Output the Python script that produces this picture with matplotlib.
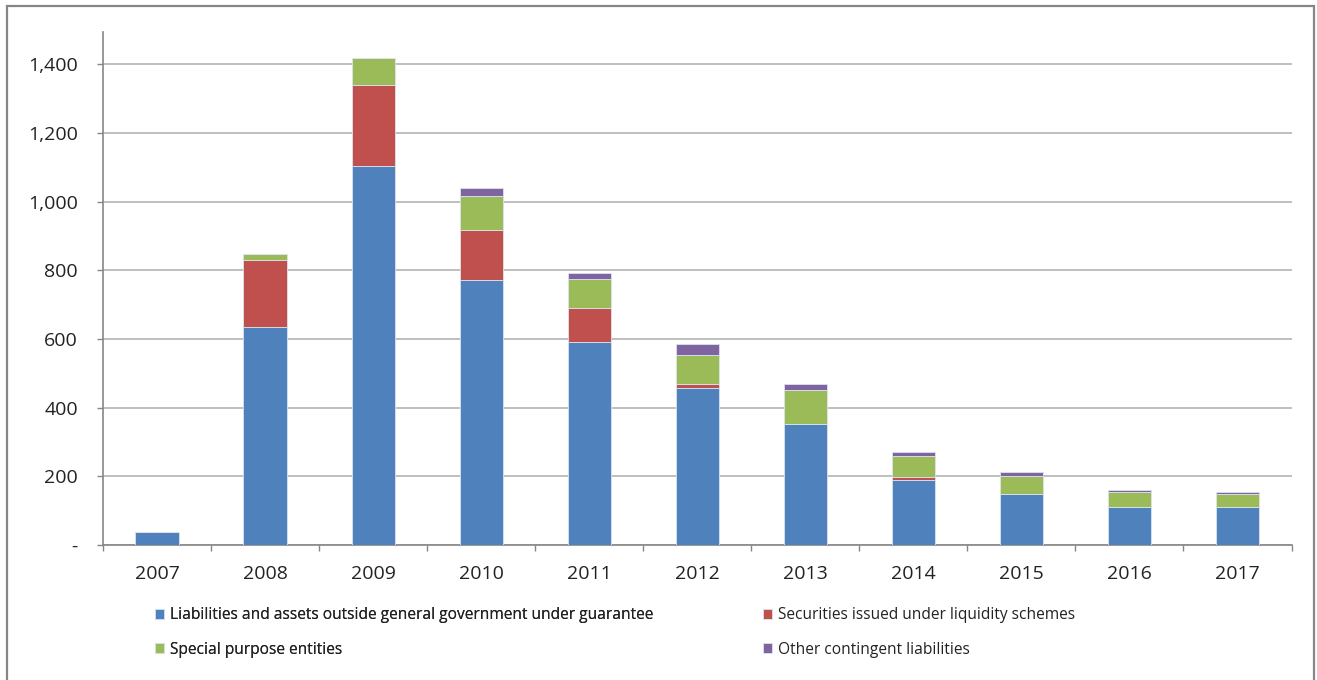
import matplotlib
matplotlib.use("Agg")
import matplotlib.pyplot as plt
from matplotlib.patches import Rectangle
from matplotlib.ticker import FuncFormatter, MultipleLocator
import numpy as np

years = ["2007", "2008", "2009", "2010", "2011", "2012",
         "2013", "2014", "2015", "2016", "2017"]
guarantees = [39, 636, 1105, 772, 592, 457, 353, 190, 149, 110, 110]
liquidity_schemes = [0, 195, 236, 144, 98, 13, 0, 9, 0, 0, 0]
special_purpose = [0, 16, 78, 101, 85, 84, 97, 60, 53, 45, 39]
other_contingent = [0, 0, 0, 23, 16, 31, 20, 13, 12, 5, 6]

series_names = [
    "Liabilities and assets outside general government under guarantee",
    "Securities issued under liquidity schemes",
    "Special purpose entities",
    "Other contingent liabilities",
]
series_values = [guarantees, liquidity_schemes, special_purpose, other_contingent]
series_colors = ["#4F81BD", "#C0504D", "#9BBB59", "#8064A2"]

plt.rcParams["font.family"] = ["Open Sans", "DejaVu Sans"]

W, H = 1317, 680
fig = plt.figure(figsize=(W / 100, H / 100), dpi=100)
ax = fig.add_axes([103 / W, (H - 545) / H, (1291.5 - 103) / W, (545 - 31.7) / H])

x = np.arange(len(years))
bottom = np.zeros(len(years))
handles = []
for name, vals, col in zip(series_names, series_values, series_colors):
    vals = np.array(vals, dtype=float)
    bars = ax.bar(x, vals, width=0.4, bottom=bottom, color=col,
                  edgecolor="#dbe4f0", linewidth=0.6, label=name, zorder=3)
    handles.append(bars)
    bottom += vals

ax.set_xlim(-0.5, len(years) - 0.5)
ax.set_ylim(0, 1495)
ax.yaxis.set_major_locator(MultipleLocator(200))
ax.yaxis.set_major_formatter(FuncFormatter(lambda v, p: "-" if v == 0 else f"{v:,.0f}"))
ax.grid(axis="y", color="#b4b4b4", linewidth=1.2, zorder=0)
ax.set_axisbelow(True)

ax.set_xticks(x)
ax.set_xticklabels(years)
ax.set_xticks(np.arange(-0.5, len(years)), minor=True)
ax.tick_params(axis="x", which="major", length=0, pad=14.5, labelsize=14, labelcolor="#222222")
ax.tick_params(axis="x", which="minor", length=4, width=1, color="#868686", direction="out")
ax.tick_params(axis="y", length=4, width=1, color="#868686", pad=14, labelsize=14, labelcolor="#222222")

for side in ["top", "right"]:
    ax.spines[side].set_visible(False)
for side in ["left", "bottom"]:
    ax.spines[side].set_color("#868686")
    ax.spines[side].set_linewidth(1.2)

# Two-column legend below the plot
leg_kw = dict(frameon=False, fontsize=11.2, handlelength=0.6, handleheight=0.6,
              handletextpad=0.35, labelspacing=1.2, borderpad=0, borderaxespad=0,
              loc="center left", labelcolor="#222222")
leg1 = fig.legend([handles[0], handles[2]], [series_names[0], series_names[2]],
                  bbox_to_anchor=(155 / W, 1 - 632.5 / H), **leg_kw)
fig.add_artist(leg1)
fig.legend([handles[1], handles[3]], [series_names[1], series_names[3]],
           bbox_to_anchor=(763 / W, 1 - 632.5 / H), **leg_kw)

# Chart-area border
fig.add_artist(Rectangle((7 / W, -0.05), (1314 - 7) / W, 1.05 - 6 / H,
                         transform=fig.transFigure, fill=False,
                         edgecolor="#868686", linewidth=1.6))

fig.savefig("out.png", dpi=100)
